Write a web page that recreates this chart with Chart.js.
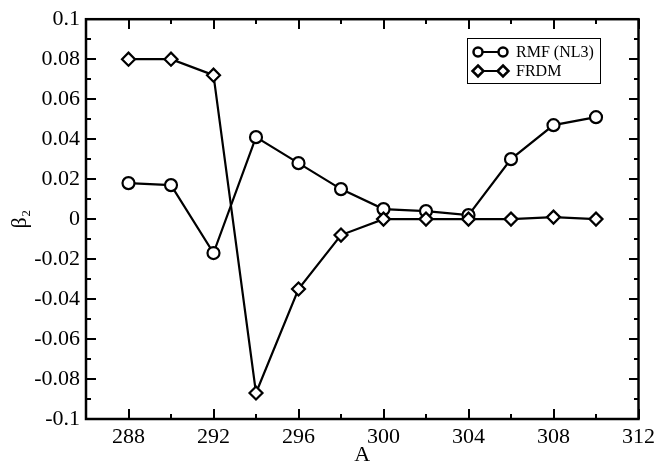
<!DOCTYPE html>
<html>
<head>
<meta charset="utf-8">
<script src="https://cdn.jsdelivr.net/npm/chart.js@4"></script>
<style>
  html, body { margin: 0; padding: 0; background: #fff; }
  #wrap { width: 660px; height: 470px; }
</style>
</head>
<body>
<div id="wrap"><canvas id="deformChart" width="660" height="470"></canvas></div>
<script>
// Mass numbers and quadrupole deformations
const massNumbers = [288, 290, 292, 294, 296, 298, 300, 302, 304, 306, 308, 310];
const rmfBeta2 = [0.018, 0.017, -0.017, 0.041, 0.028, 0.015, 0.005, 0.004, 0.002, 0.030, 0.047, 0.051];
const frdmBeta2 = [0.080, 0.080, 0.072, -0.087, -0.035, -0.008, 0.000, 0.000, 0.000, 0.000, 0.001, 0.000];
const seriesNames = ["RMF (NL3)", "FRDM"];
const seriesMarkers = ["circle", "rectRot"];

const FONT = "'Liberation Serif', 'DejaVu Serif', serif";

const toXY = (vals) => vals.map((v, i) => ({ x: massNumbers[i], y: v }));

// Inward ticks on all four sides plus the box frame
const frameTicks = {
  id: "frameTicks",
  afterDraw(chart) {
    const c = chart.ctx;
    const a = chart.chartArea;
    const xs = chart.scales.x, ys = chart.scales.y;
    const top = Math.round(a.top), bottom = Math.round(a.bottom);
    const left = Math.round(a.left), right = Math.round(a.right);
    c.save();
    c.setLineDash([]);
    c.globalAlpha = 1;
    c.fillStyle = "#000";
    xs.ticks.forEach(t => {
      const px = Math.round(xs.getPixelForValue(t.value));
      const len = Math.round(t.value) % 4 === 0 ? 10 : 5;
      c.fillRect(px - 1, bottom - len, 2, len);
      c.fillRect(px - 1, top, 2, len);
    });
    ys.ticks.forEach(t => {
      const py = Math.round(ys.getPixelForValue(t.value));
      const len = Math.round(t.value * 100) % 2 === 0 ? 10 : 5;
      c.fillRect(left, py - 1, len, 2);
      c.fillRect(right - len, py - 1, len, 2);
    });
    c.strokeStyle = "#000";
    c.lineWidth = 2.5;
    c.strokeRect(a.left, a.top, a.right - a.left, a.bottom - a.top);
    c.restore();
  }
};

// Boxed legend: line with a marker at each end, then the label
const boxLegend = {
  id: "boxLegend",
  afterDraw(chart) {
    const c = chart.ctx;
    const bx = 467, by = 38, bw = 133, bh = 45;
    c.save();
    c.fillStyle = "#fff";
    c.fillRect(bx, by, bw, bh);
    c.strokeStyle = "#000";
    c.lineWidth = 1;
    c.strokeRect(bx + 0.5, by + 0.5, bw, bh);
    chart.data.datasets.forEach((ds, i) => {
      const y = by + 14 + i * 19;
      const x1 = 478, x2 = 503;
      c.strokeStyle = "#000";
      c.lineWidth = 2;
      c.beginPath();
      c.moveTo(x1, y); c.lineTo(x2, y);
      c.stroke();
      [x1, x2].forEach(x => {
        c.fillStyle = "#fff";
        c.lineWidth = 2.5;
        c.beginPath();
        if (ds.pointStyle === "circle") {
          c.arc(x, y, 4.5, 0, Math.PI * 2);
        } else {
          c.moveTo(x, y - 5.5); c.lineTo(x + 5.5, y);
          c.lineTo(x, y + 5.5); c.lineTo(x - 5.5, y);
          c.closePath();
        }
        c.fill();
        c.stroke();
      });
      c.fillStyle = "#000";
      c.font = "16px " + FONT;
      c.textBaseline = "middle";
      c.fillText(ds.label, 516, y + 1);
    });
    c.restore();
  }
};

new Chart(document.getElementById("deformChart"), {
  type: "line",
  data: {
    datasets: [rmfBeta2, frdmBeta2].map((vals, i) => ({
      label: seriesNames[i],
      data: toXY(vals),
      order: i === 0 ? 1 : 0,
      borderColor: "#000",
      borderWidth: 2.2,
      pointStyle: seriesMarkers[i],
      pointRadius: i === 0 ? 6 : 6.5,
      pointBorderWidth: 2.2,
      pointBorderColor: "#000",
      pointBackgroundColor: "#fff",
      tension: 0,
      fill: false
    }))
  },
  plugins: [frameTicks, boxLegend],
  options: {
    responsive: false,
    animation: false,
    layout: { padding: { top: 10, right: 20, left: 0, bottom: 0 } },
    plugins: {
      legend: { display: false },
      tooltip: { enabled: false }
    },
    scales: {
      x: {
        type: "linear",
        min: 286,
        max: 312,
        afterFit: s => { s.height = 51; },
        grid: { display: false, drawTicks: false },
        border: { display: false },
        ticks: {
          stepSize: 2,
          autoSkip: false,
          maxRotation: 0,
          padding: 5,
          color: "#000",
          font: { family: FONT, size: 22 },
          callback: v => (v % 4 === 0 ? String(v) : "")
        },
        title: {
          display: true,
          text: "A",
          color: "#000",
          font: { family: FONT, size: 22 },
          padding: { top: 0, bottom: 2 }
        }
      },
      y: {
        min: -0.1,
        max: 0.1,
        afterFit: s => { s.width = 86; },
        grid: { display: false, drawTicks: false },
        border: { display: false },
        ticks: {
          stepSize: 0.01,
          autoSkip: false,
          padding: 6,
          color: "#000",
          font: { family: FONT, size: 22 },
          callback: v => {
            const k = Math.round(v * 100);
            return k % 2 === 0 ? String(Number((k / 100).toFixed(2))) : "";
          }
        },
        title: {
          display: true,
          text: "β₂",
          color: "#000",
          font: { family: FONT, size: 22 },
          padding: { top: 7, bottom: 0 }
        }
      }
    }
  }
});
</script>
</body>
</html>
